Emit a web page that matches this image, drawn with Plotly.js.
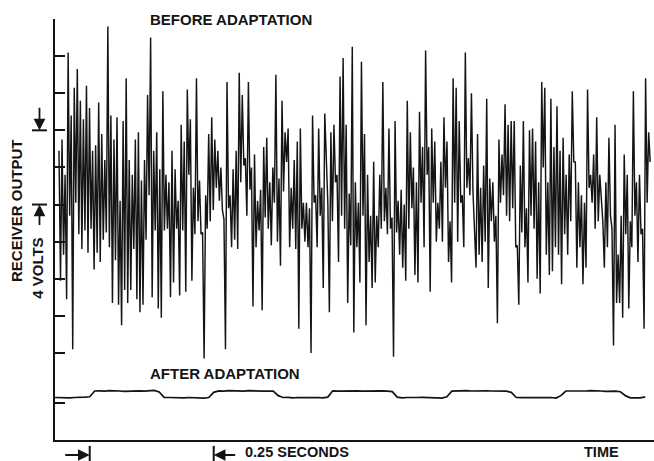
<!DOCTYPE html>
<html>
<head>
<meta charset="utf-8">
<script src="https://cdn.plot.ly/plotly-3.0.1.min.js"></script>
<style>
  html, body { margin: 0; padding: 0; background: #fff; }
  #chart { width: 654px; height: 461px; }
</style>
</head>
<body>
<div id="chart"></div>
<script>
// Receiver output (volts) sampled along the strip, before adaptation:
// successive peak / trough readings of the recorder pen.
const beforeVolts = [
  10.9,3.9, 11.5,5.3, 9.6,2.9, 16.2,7.4, 12.8,0.2, 14.3,8.1, 15.3,6.4, 13.6,5.6, 12.6,6.6, 14.4,5.4,
  13.2,6.7, 10.9,4.5, 11.2,5.4, 13.5,4.9, 11.8,6.1, 10.4,6.5, 17.6,5.7, 12.8,2.7, 11.5,5.0, 12.7,2.6,
  8.2,1.5, 12.5,3.4, 14.8,2.7, 10.4,3.4, 9.6,5.6, 11.5,2.9, 11.9,2.2, 9.3,2.6, 10.4,6.1, 13.9,8.5,
  17.0,3.0, 10.9,6.6, 11.9,2.4, 9.9,1.9, 14.1,6.6, 9.6,6.7, 9.2,3.0, 10.9,3.8, 9.9,6.7, 8.2,3.1,
  12.3,6.6, 11.4,3.3, 14.2,9.6, 12.6,3.9, 8.9,6.4, 14.8,7.1, 9.3,6.4, 6.5,-0.3, 8.5,6.7, 11.8,7.1,
  12.7,7.7, 11.5,8.9, 10.9,8.2, 10.0,7.7, 7.2,0.2, 14.6,7.8, 8.5,5.7, 9.9,6.1, 10.9,5.6, 15.1,9.2,
  13.9,10.1, 10.5,7.4, 14.6,8.8,
  10.0,2.5, 10.7,5.7, 8.2,6.6, 8.8,2.3, 11.1,7.3, 11.6,6.7, 9.2,5.8, 10.0,8.1, 15.0,6.0, 9.4,4.7,
  13.6,8.7, 11.9,10.3, 12.1,5.7, 8.9,6.7, 10.4,5.6, 11.4,1.3, 12.1,6.7, 8.1,6.0, 8.1,5.7, 7.8,0.0,
  12.8,8.1, 8.5,5.7, 12.1,7.4, 8.9,3.5, 12.9,10.1, 8.1,2.2, 11.9,7.1, 12.3,9.2, 9.6,4.9, 14.9,7.4,
  15.9,6.7, 12.3,2.7,
  8.6,5.8, 16.5,1.1, 9.2,5.7, 8.1,3.8, 15.7,7.4, 11.8,1.5, 9.6,4.9, 7.4,3.5, 10.3,3.8, 7.4,5.7,
  9.6,6.7, 14.6,7.1, 8.9,6.4, 12.1,6.7, 7.3,-0.2, 12.5,6.5, 8.2,5.3, 8.8,4.6, 8.0,3.9, 13.6,6.7,
  11.9,7.8, 10.0,4.2, 9.2,3.8, 13.0,8.1, 11.1,5.7, 16.3,9.6, 11.1,3.3, 12.1,8.1, 11.4,6.0, 8.1,6.7,
  10.3,6.0, 12.7,8.9, 11.4,4.9,
  7.1,3.8, 14.8,8.1, 14.3,6.0, 12.5,8.1, 8.5,5.7, 16.2,8.9, 10.5,8.5, 14.0,8.7, 6.7,4.6, 11.8,5.3,
  8.9,4.9, 10.1,6.0, 13.7,3.5, 9.4,7.1, 9.2,6.0, 7.4,1.6, 11.5,8.1, 10.7,8.5, 13.4,7.4, 12.3,7.1,
  12.5,7.8, 12.5,5.7, 5.8,2.6, 10.1,6.5, 12.5,5.7, 7.8,3.8, 12.0,7.4, 12.1,6.7, 11.4,4.0, 9.2,3.2,
  14.6,10.0, 14.3,5.3, 9.2,4.2,
  13.7,4.4, 11.1,5.7, 13.3,5.3, 10.9,3.7, 11.6,6.4, 9.6,5.3, 10.7,7.1, 14.1,10.3, 10.3,4.6, 9.2,5.7,
  8.5,3.7, 8.1,4.6, 14.2,8.9, 9.6,8.1, 10.7,6.7, 12.7,7.1, 9.6,8.1, 7.1,4.6, 9.2,5.7, 11.6,7.4,
  6.7,0.4, 12.3,2.7, 5.3,2.7, 7.4,1.9, 10.7,6.4, 9.6,2.4, 7.1,5.7, 14.1,7.4, 9.2,4.9, 9.6,6.4,
  6.7,1.3, 14.8,8.1, 11.9,10.3
];

// Receiver output (volts) after adaptation, one reading every 10 ms.
const afterVolts = [
  -2.40, -2.41, -2.39, -2.42, -2.40, -2.41, -2.38, -2.36, -2.05, -2.04,
  -2.06, -2.03, -2.06, -2.05, -2.07, -2.05, -2.06, -2.04, -2.06, -2.05,
  -2.02, -2.10, -2.39, -2.40, -2.41, -2.40, -2.42, -2.40, -2.41, -2.39,
  -2.43, -2.40, -2.12, -2.04, -2.06, -2.03, -2.05, -2.04, -2.06, -2.03,
  -2.05, -2.04, -2.06, -2.05, -2.06, -2.30, -2.40, -2.39, -2.42, -2.40,
  -2.41, -2.39, -2.41, -2.40, -2.42, -2.38, -2.04, -2.06, -2.05, -2.07,
  -2.05, -2.04, -2.06, -2.05, -2.03, -2.05, -2.04, -2.06, -2.08, -2.38,
  -2.42, -2.40, -2.41, -2.40, -2.39, -2.41, -2.40, -2.42, -2.43, -2.36,
  -2.06, -2.04, -2.05, -2.03, -2.05, -2.04, -2.06, -2.04, -2.05, -2.06,
  -2.05, -2.06, -2.12, -2.40, -2.41, -2.40, -2.42, -2.40, -2.41, -2.39,
  -2.40, -2.43, -2.30, -2.05, -2.06, -2.04, -2.07, -2.05, -2.03, -2.06,
  -2.05, -2.07, -2.05, -2.06, -2.09, -2.30, -2.42, -2.44, -2.42, -2.37
];

// Recorder scale marks, 2 V apart, plus the reference mark under the lower trace.
const scaleTicks = [18, 16, 14, 12, 10, 8, 6, 4, 2, 0, -2.7];
// The 4-volt calibration bracket (volts) and the 0.25 s time bracket (seconds).
const voltBracket = [12, 8];
const timeBracket = [0.07, 0.32];

const beforeStart = 0.008;   // s
const beforeEnd = 1.200;     // s
const afterStep = 0.01;      // s

const ink = '#141414';
const font = { family: '"Liberation Sans", Arial, Helvetica, sans-serif', size: 15, color: ink, weight: 'bold' };
const smallFont = Object.assign({}, font, { size: 14.5 });

const traces = [
  {
    type: 'scatter', mode: 'lines',
    y: beforeVolts, x0: beforeStart, dx: (beforeEnd - beforeStart) / (beforeVolts.length - 1),
    line: { color: ink, width: 1.45 },
    hoverinfo: 'skip'
  },
  {
    type: 'scatter', mode: 'lines',
    y: afterVolts, x0: 0, dx: afterStep,
    line: { color: ink, width: 1.7 },
    hoverinfo: 'skip'
  }
];

const bracketArrow = { showarrow: true, arrowhead: 2, arrowsize: 1.3, arrowwidth: 1.8, arrowcolor: ink, text: '' };

const layout = {
  width: 654, height: 461,
  margin: { l: 55, r: 0, t: 19, b: 21 },
  paper_bgcolor: '#fff', plot_bgcolor: '#fff',
  showlegend: false,
  xaxis: {
    range: [0, 1.2077], showline: true, linewidth: 2, linecolor: ink,
    showgrid: false, zeroline: false, showticklabels: false, ticks: ''
  },
  yaxis: {
    range: [-4.69, 18], showline: true, linewidth: 2, linecolor: ink,
    showgrid: false, zeroline: false, showticklabels: false,
    tickmode: 'array', tickvals: scaleTicks, ticks: 'inside', ticklen: 10, tickwidth: 2, tickcolor: ink
  },
  shapes: [
    // calibration bars beside the voltage scale
    { type: 'line', xref: 'paper', yref: 'y', x0: -0.0384, x1: -0.0134, y0: voltBracket[0], y1: voltBracket[0], line: { color: ink, width: 2 } },
    { type: 'line', xref: 'paper', yref: 'y', x0: -0.0384, x1: -0.0134, y0: voltBracket[1], y1: voltBracket[1], line: { color: ink, width: 2 } },
    // time bracket end bars under the axis
    { type: 'line', xref: 'x', yref: 'paper', x0: timeBracket[0], x1: timeBracket[0], y0: -0.014, y1: -0.05, line: { color: ink, width: 2 } },
    { type: 'line', xref: 'x', yref: 'paper', x0: timeBracket[1], x1: timeBracket[1], y0: -0.014, y1: -0.05, line: { color: ink, width: 2 } }
  ],
  annotations: [
    { xref: 'paper', yref: 'paper', x: 0.1553, y: 1.0, xanchor: 'left', yanchor: 'middle', showarrow: false, text: 'BEFORE ADAPTATION', font: font },
    { xref: 'paper', yref: 'paper', x: 0.1553, y: 0.159, xanchor: 'left', yanchor: 'middle', showarrow: false, text: 'AFTER ADAPTATION', font: font },
    { xref: 'paper', yref: 'paper', x: -0.0634, y: 0.544, xanchor: 'center', yanchor: 'middle', textangle: -90, showarrow: false, text: 'RECEIVER OUTPUT', font: font },
    { xref: 'paper', yref: 'paper', x: -0.0284, y: 0.409, xanchor: 'center', yanchor: 'middle', textangle: -90, showarrow: false, text: '4 VOLTS', font: font },
    Object.assign({ xref: 'paper', yref: 'y', x: -0.0259, y: voltBracket[0], ax: 0, ay: -24 }, bracketArrow),
    Object.assign({ xref: 'paper', yref: 'y', x: -0.0259, y: voltBracket[1], ax: 0, ay: 22 }, bracketArrow),
    Object.assign({ xref: 'x', yref: 'paper', x: timeBracket[0], y: -0.0356, ax: -26, ay: 0 }, bracketArrow),
    Object.assign({ xref: 'x', yref: 'paper', x: timeBracket[1], y: -0.0356, ax: 23, ay: 0 }, bracketArrow),
    { xref: 'paper', yref: 'paper', x: 0.3139, y: -0.029, xanchor: 'left', yanchor: 'middle', showarrow: false, text: '0.25 SECONDS', font: smallFont },
    { xref: 'paper', yref: 'paper', x: 0.913, y: -0.029, xanchor: 'center', yanchor: 'middle', showarrow: false, text: 'TIME', font: smallFont }
  ]
};

Plotly.newPlot('chart', traces, layout, { staticPlot: true, displayModeBar: false });
</script>
</body>
</html>
